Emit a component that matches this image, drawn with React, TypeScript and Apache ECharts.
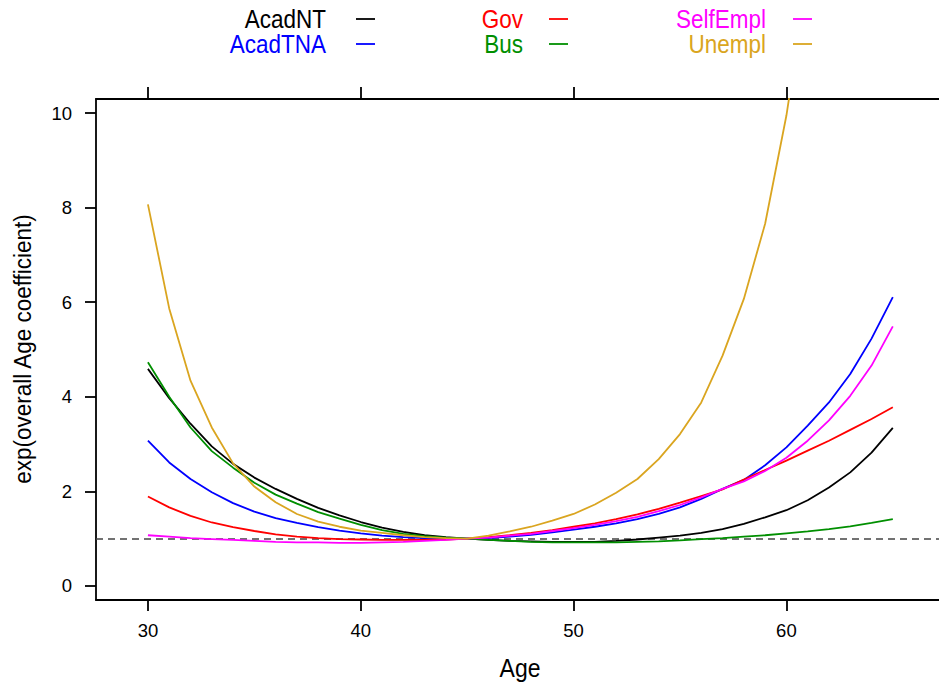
import React, { useEffect, useRef } from "react";
import * as echarts from "echarts";

const ages = [30, 31, 32, 33, 34, 35, 36, 37, 38, 39, 40, 41, 42, 43, 44, 45, 46, 47, 48, 49, 50, 51, 52, 53, 54, 55, 56, 57, 58, 59, 60, 61, 62, 63, 64, 65];

const acadNT = [4.59, 3.97, 3.43, 2.95, 2.58, 2.29, 2.05, 1.84, 1.65, 1.49, 1.35, 1.23, 1.14, 1.07, 1.03, 1.0, 0.97, 0.95, 0.94, 0.93, 0.93, 0.93, 0.95, 0.98, 1.02, 1.06, 1.12, 1.2, 1.31, 1.45, 1.6, 1.81, 2.08, 2.4, 2.82, 3.34];
const acadTNA = [3.07, 2.61, 2.26, 1.98, 1.75, 1.57, 1.43, 1.33, 1.24, 1.17, 1.11, 1.06, 1.03, 1.01, 1.0, 1.0, 1.01, 1.04, 1.08, 1.13, 1.19, 1.25, 1.32, 1.41, 1.52, 1.66, 1.84, 2.05, 2.24, 2.55, 2.93, 3.39, 3.88, 4.48, 5.23, 6.11];
const gov = [1.89, 1.66, 1.48, 1.34, 1.24, 1.16, 1.09, 1.04, 1.01, 0.99, 0.98, 0.97, 0.97, 0.97, 0.98, 1.0, 1.03, 1.07, 1.12, 1.18, 1.25, 1.32, 1.41, 1.51, 1.63, 1.76, 1.9, 2.04, 2.25, 2.45, 2.65, 2.86, 3.07, 3.3, 3.53, 3.78];
const bus = [4.73, 4.0, 3.35, 2.85, 2.5, 2.18, 1.93, 1.74, 1.56, 1.42, 1.29, 1.18, 1.1, 1.05, 1.02, 1.0, 0.97, 0.95, 0.93, 0.92, 0.92, 0.92, 0.92, 0.93, 0.94, 0.96, 0.99, 1.01, 1.04, 1.07, 1.11, 1.15, 1.2, 1.26, 1.33, 1.41];
const selfEmpl = [1.07, 1.04, 1.01, 0.99, 0.97, 0.95, 0.93, 0.92, 0.92, 0.91, 0.91, 0.92, 0.93, 0.95, 0.97, 1.0, 1.02, 1.06, 1.1, 1.16, 1.22, 1.29, 1.37, 1.46, 1.58, 1.71, 1.87, 2.05, 2.21, 2.43, 2.71, 3.07, 3.5, 4.02, 4.66, 5.49];
const unempl = [8.07, 5.87, 4.34, 3.35, 2.59, 2.1, 1.77, 1.52, 1.36, 1.25, 1.17, 1.12, 1.07, 1.03, 1.01, 1.0, 1.06, 1.15, 1.25, 1.38, 1.52, 1.72, 1.97, 2.26, 2.68, 3.21, 3.88, 4.87, 6.07, 7.66, 9.95, 12.9, 16.8, 22.0, 29.0, 39.0];

const seriesNames = ["AcadNT", "AcadTNA", "Gov", "Bus", "SelfEmpl", "Unempl"];
const seriesValues = [acadNT, acadTNA, gov, bus, selfEmpl, unempl];
const seriesColors = ["#000000", "#0000ff", "#ff0000", "#008f00", "#ff00ff", "#daa520"];

const xTicks = [30, 40, 50, 60];
const yTicks = [0, 2, 4, 6, 8, 10];
const refLevel = 1;

const FONT = "'Liberation Sans', Arial, Helvetica, sans-serif";

// legend layout: column right edges / rows
const legendTextRight = [326, 523, 766];
const legendLineX = [[356, 375], [549, 568], [793, 812]];
const legendRowY = [19, 44];

export default function App() {
  const ref = useRef<HTMLDivElement>(null);

  useEffect(() => {
    if (!ref.current) return;
    const chart = echarts.init(ref.current, null, { renderer: "svg" });

    const series: any[] = seriesNames.map((name, i) => ({
      name,
      type: "line",
      xAxisIndex: 0,
      yAxisIndex: 0,
      data: ages.map((a, j) => [a, seriesValues[i][j]]),
      showSymbol: false,
      symbol: "none",
      clip: true,
      lineStyle: { color: seriesColors[i], width: 1.8 },
      itemStyle: { color: seriesColors[i] },
      z: 3 + i,
      ...(i === 0
        ? {
            markLine: {
              silent: true,
              symbol: ["none", "none"],
              label: { show: false },
              lineStyle: { color: "#444444", type: [7, 5], width: 1.6 },
              data: [{ yAxis: refLevel }],
              z: 2,
            },
          }
        : {}),
    }));

    const graphics: any[] = [];
    seriesNames.forEach((name, i) => {
      const col = Math.floor(i / 2);
      const row = i % 2;
      const y = legendRowY[row];
      graphics.push({
        type: "text",
        x: legendTextRight[col],
        y,
        scaleY: 1.15,
        style: {
          text: name,
          fill: seriesColors[i],
          fontSize: 22.5,
          fontFamily: FONT,
          align: "right",
          verticalAlign: "middle",
        },
      });
      graphics.push({
        type: "line",
        shape: { x1: legendLineX[col][0], y1: y, x2: legendLineX[col][1], y2: y },
        style: { stroke: seriesColors[i], lineWidth: 1.8 },
      });
    });
    graphics.push({
      type: "text",
      x: 23,
      y: 349,
      rotation: Math.PI / 2,
      scaleY: 1.1,
      style: {
        text: "exp(overall Age coefficient)",
        fill: "#000",
        fontSize: 22.5,
        fontFamily: FONT,
        align: "center",
        verticalAlign: "middle",
      },
    });
    graphics.push({
      type: "text",
      x: 520,
      y: 668,
      scaleY: 1.1,
      style: {
        text: "Age",
        fill: "#000",
        fontSize: 23,
        fontFamily: FONT,
        align: "center",
        verticalAlign: "middle",
      },
    });

    const axisLine = { show: true, onZero: false, lineStyle: { color: "#000", width: 1.8 } };

    chart.setOption({
      animation: false,
      backgroundColor: "#ffffff",
      grid: { left: 96, right: 0, top: 99, bottom: 84, containLabel: false },
      xAxis: [
        {
          type: "value",
          position: "bottom",
          min: 27.56,
          max: 67.17,
          axisLine,
          axisTick: { show: true, inside: false, length: 11, customValues: xTicks, lineStyle: { color: "#000", width: 1.8 } },
          axisLabel: { show: true, customValues: xTicks, fontSize: 18.5, color: "#000", fontFamily: FONT, margin: 21 },
          splitLine: { show: false },
        },
        {
          type: "value",
          position: "top",
          min: 27.56,
          max: 67.17,
          axisLine,
          axisTick: { show: true, inside: false, length: 12, customValues: xTicks, lineStyle: { color: "#000", width: 1.8 } },
          axisLabel: { show: false },
          splitLine: { show: false },
        },
      ],
      yAxis: [
        {
          type: "value",
          position: "left",
          min: -0.3,
          max: 10.3,
          axisLine,
          axisTick: { show: true, inside: false, length: 11, customValues: yTicks, lineStyle: { color: "#000", width: 1.8 } },
          axisLabel: { show: true, customValues: yTicks, fontSize: 18.5, color: "#000", fontFamily: FONT, margin: 24 },
          splitLine: { show: false },
        },
      ],
      series,
      graphic: graphics,
    });

    return () => chart.dispose();
  }, []);

  return (
    <div
      ref={ref}
      style={{ position: "fixed", left: 0, top: 0, width: 939, height: 684, background: "#fff" }}
    />
  );
}
